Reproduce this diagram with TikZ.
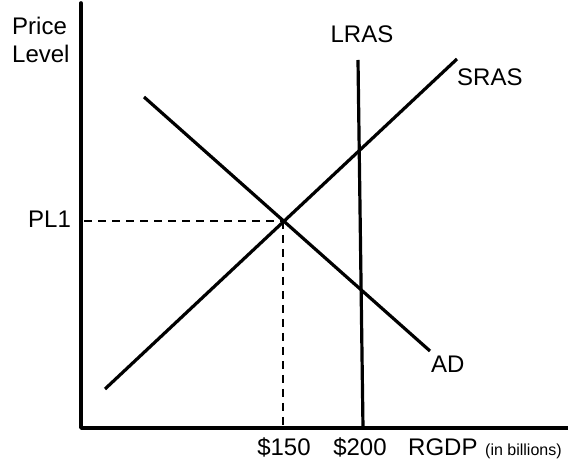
\documentclass[tikz,border=0pt]{standalone}
\usepackage{fontspec}
\setmainfont{Liberation Sans}
\begin{document}
\begin{tikzpicture}[x=1pt,y=-1pt,
  axis/.style={line width=3.6pt,line join=round,line cap=round},
  curve/.style={line width=3.2pt},
  guide/.style={line width=2.4pt,dash pattern=on 8pt off 6pt},
  lbl/.style={inner sep=0pt,font=\fontsize{24}{28}\selectfont},
  small/.style={inner sep=0pt,font=\fontsize{16}{19}\selectfont}]
\useasboundingbox (0,0) rectangle (568,462);
% axes
\coordinate (ytop) at (81,3);
\coordinate (origin) at (81,428);
\coordinate (xend) at (568,428);
\draw[axis] (ytop) -- (origin) -- (xend);
% curves
\coordinate (adA) at (144,97);
\coordinate (adB) at (430,351);
\coordinate (srA) at (105,389);
\coordinate (srB) at (457,59);
\coordinate (lrA) at (358,60);
\coordinate (lrB) at (363,428);
\draw[curve] (adA) -- (adB);
\draw[curve] (srA) -- (srB);
\draw[curve] (lrA) -- (lrB);
% equilibrium guides
\coordinate (eq) at (283,221);
\coordinate (eqy) at (84,221);
\coordinate (eqx) at (283,428);
\draw[guide] (eqy) -- (eq);
\draw[guide] (eq) -- (eqx);
% labels
\node[lbl,anchor=base west] (price) at (12,35) {Price};
\node[lbl,anchor=base west] (level) at (12,63) {Level};
\node[lbl,anchor=base west] (pl1) at (28,228) {PL1};
\node[lbl,anchor=base] (lras) at (362,43) {LRAS};
\node[lbl,anchor=base west] (sras) at (457,86) {SRAS};
\node[lbl,anchor=base west] (ad) at (431,373) {AD};
\node[lbl,anchor=base] (q150) at (284,455) {\$150};
\node[lbl,anchor=base] (q200) at (360,455) {\$200};
\node[lbl,anchor=base west] (rgdp) at (408,455) {RGDP};
\node[small,anchor=base west] (bil) at (485,455) {(in billions)};
\end{tikzpicture}
\end{document}
